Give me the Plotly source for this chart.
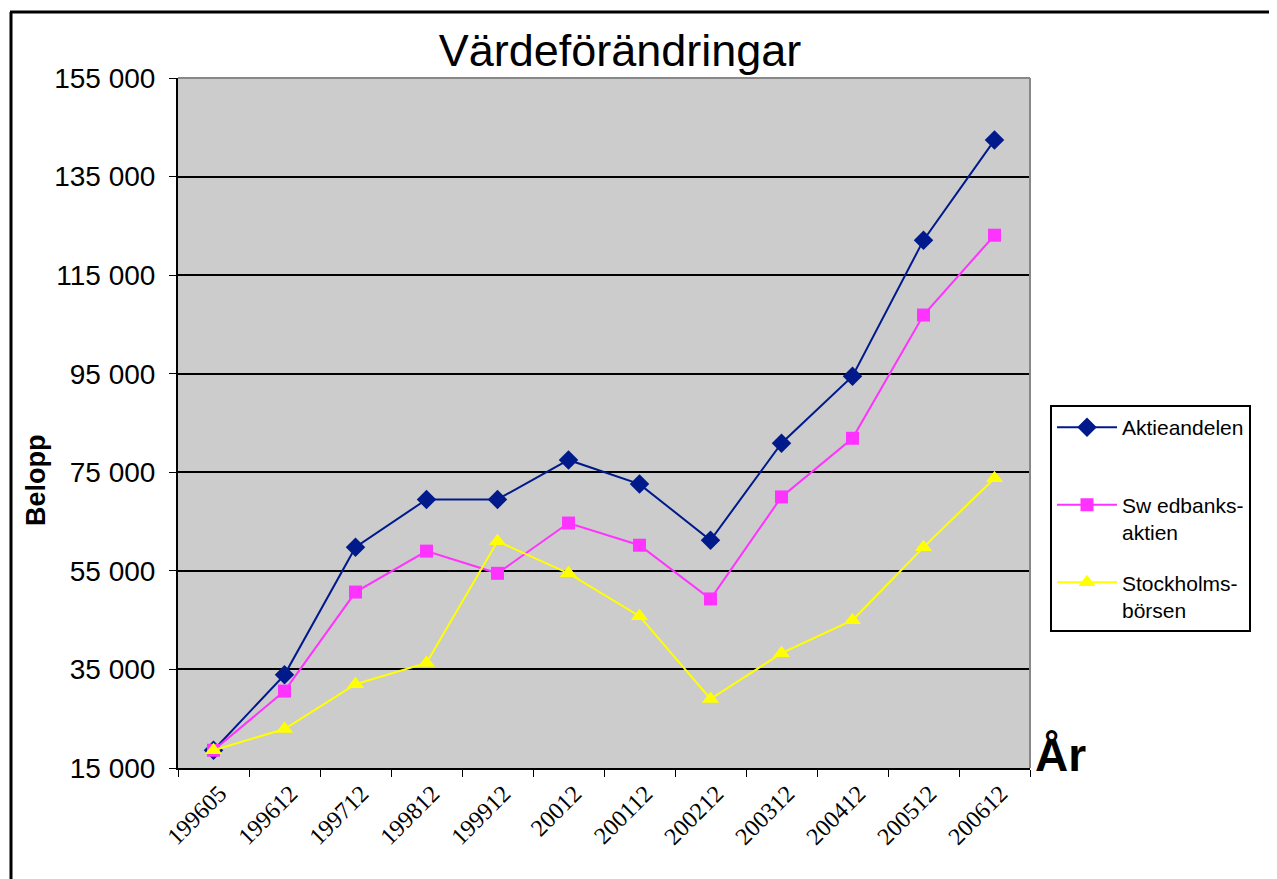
import plotly.graph_objects as go

categories = ["199605", "199612", "199712", "199812", "199912", "20012",
              "200112", "200212", "200312", "200412", "200512", "200612"]
aktieandelen = [18600, 33900, 59800, 69500, 69500, 77500, 72600, 61200, 80900, 94500, 122100, 142400]
swedbank = [18600, 30600, 50700, 59000, 54500, 64700, 60200, 49300, 70000, 81900, 106900, 123100]
stockholm = [18600, 22900, 32000, 36300, 61000, 54500, 45800, 29000, 38300, 45000, 59800, 73800]
ytick_vals = [15000, 35000, 55000, 75000, 95000, 115000, 135000, 155000]
ytick_text = ["15 000", "35 000", "55 000", "75 000", "95 000", "115 000", "135 000", "155 000"]

OFF = 8  # page body margin
W, H = 1277 - OFF, 879 - OFF
L, R, T, B = 178 - OFF, 1030 - OFF, 78 - OFF, 768 - OFF

def px(x):
    return (x - OFF - L) / (R - L)

def py(y):
    return (B - (y - OFF)) / (B - T)

fig = go.Figure()
fig.add_trace(go.Scatter(x=categories, y=aktieandelen, name="Aktieandelen<br> ",
                         mode="lines+markers", legendgroup="a",
                         line=dict(color="#001a8c", width=2),
                         marker=dict(symbol="diamond", size=15, color="#001a8c")))
fig.add_trace(go.Scatter(x=categories, y=swedbank, name="Sw edbanks-<br>aktien",
                         mode="lines+markers", legendgroup="b",
                         line=dict(color="#ff33ff", width=2),
                         marker=dict(symbol="square", size=13, color="#ff33ff")))
fig.add_trace(go.Scatter(x=categories, y=stockholm, name="Stockholms-<br>börsen",
                         mode="lines+markers", legendgroup="c",
                         line=dict(color="#ffff00", width=2),
                         marker=dict(symbol="triangle-up", size=15, color="#ffff00")))

fig.update_layout(
    width=W, height=H,
    margin=dict(l=L, r=W - R, t=T, b=H - B, pad=0),
    paper_bgcolor="white",
    plot_bgcolor="#cccccc",
    title=dict(text="Värdeförändringar", x=(620 - OFF) / W, xanchor="center",
               y=1 - (50 - OFF) / H, yanchor="middle",
               font=dict(family="Liberation Sans, Arial", size=45, color="black")),
    xaxis=dict(type="category", range=[-0.5, 11.5], showgrid=False,
               showline=True, linecolor="black", linewidth=2,
               ticks="outside", tickson="boundaries", ticklen=7, tickcolor="black", tickwidth=1,
               tickangle=-45, ticklabelshift=6,
               tickfont=dict(family="Liberation Serif, Times New Roman", size=24, color="black")),
    yaxis=dict(range=[15000, 155000], tickvals=ytick_vals, ticktext=ytick_text,
               showgrid=True, gridcolor="black", gridwidth=2,
               showline=True, linecolor="black", linewidth=2, zeroline=False,
               ticks="outside", ticklen=7, tickcolor="black", tickwidth=1,
               ticklabelstandoff=8,
               tickfont=dict(family="Liberation Sans, Arial", size=28, color="black")),
    legend=dict(x=px(1050), y=py(405), xanchor="left", yanchor="top",
                bgcolor="white", bordercolor="black", borderwidth=2,
                font=dict(family="Liberation Sans, Arial", size=21, color="black"),
                valign="top", tracegroupgap=20, itemwidth=60),
    showlegend=True,
)

# gray border of plot area on top and right
fig.add_shape(type="line", xref="paper", yref="paper", x0=0, x1=1, y0=1, y1=1,
              line=dict(color="#888888", width=2), layer="above")
fig.add_shape(type="line", xref="paper", yref="paper", x0=1, x1=1, y0=0, y1=1,
              line=dict(color="#888888", width=2), layer="above")
# outer chart frame (left and top)
fig.add_shape(type="line", xref="paper", yref="paper", x0=px(11), x1=px(11), y0=py(12), y1=py(900),
              line=dict(color="black", width=3))
fig.add_shape(type="line", xref="paper", yref="paper", x0=px(10), x1=px(1300), y0=py(12), y1=py(12),
              line=dict(color="black", width=3))

fig.add_annotation(text="<b>Belopp</b>", xref="paper", yref="paper", x=px(36), y=py(480),
                   textangle=-90, showarrow=False, xanchor="center", yanchor="middle",
                   font=dict(family="Liberation Sans, Arial", size=27, color="black"))
fig.add_annotation(text="<b>År</b>", xref="paper", yref="paper", x=px(1033), y=py(755),
                   showarrow=False, xanchor="left", yanchor="middle",
                   font=dict(family="Liberation Sans, Arial", size=46, color="black"))

fig.write_html("out.html")
